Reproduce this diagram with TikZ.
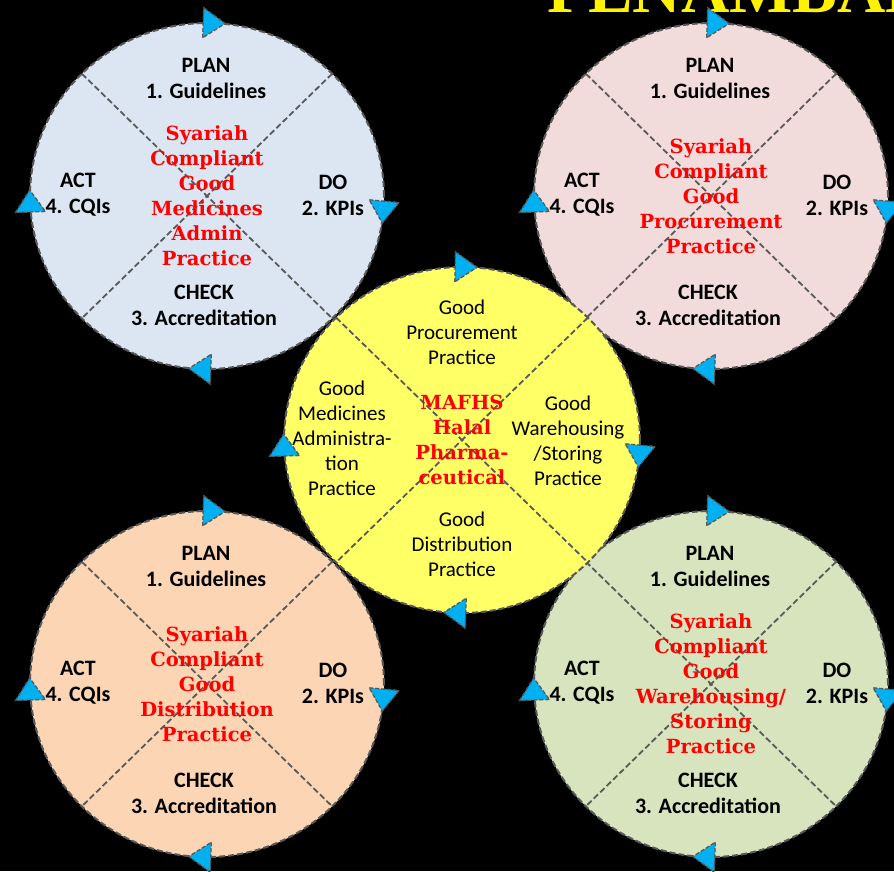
\documentclass[tikz,border=0pt]{standalone}
\usepackage{fontspec}
\setmainfont{Carlito}
\newfontfamily\redfont{DejaVu Serif}
\newfontfamily\titlefont{Liberation Serif}
\usetikzlibrary{positioning}

\definecolor{bluefill}{HTML}{DCE6F2}
\definecolor{pinkfill}{HTML}{F2DCDB}
\definecolor{peachfill}{HTML}{FCD5B5}
\definecolor{greenfill}{HTML}{D7E4BD}
\definecolor{yellowfill}{HTML}{FFFF66}
\definecolor{arrowblue}{HTML}{00B0F0}
\definecolor{rimgray}{HTML}{595959}

\tikzset{
  rim/.style={draw=rimgray, line width=2pt, dash pattern=on 6pt off 3pt},
  cross/.style={draw=rimgray, line width=1.8pt, dash pattern=on 6pt off 3pt},
  turn/.style={fill=arrowblue, draw=rimgray, line width=1.3pt, dash pattern=on 4pt off 2pt},
  stage/.style={font=\fontsize{22}{26}\selectfont\bfseries, align=center, inner sep=0pt},
  practice/.style={font=\fontsize{21}{25}\selectfont, align=center, inner sep=0pt},
  focus/.style={font=\redfont\fontsize{19.5}{25}\selectfont\bfseries, text=red, align=center, inner sep=0pt},
}

\begin{document}
\begin{tikzpicture}[x=1pt, y=1pt]
\fill[black] (0,0) rectangle (894,-871);
\useasboundingbox (0,0) rectangle (894,-871);

% title, cut at the top edge
\begin{scope}
\clip (0,0) rectangle (894,-871);
\node[anchor=base west, inner sep=0pt, text=yellow, font=\titlefont\fontsize{67}{67}\selectfont\bfseries] (title) at (547,-12) {PENAMBAH};
\end{scope}

% four PDCA cycles
\foreach \n/\cx/\cy/\col/\txt in {
  admin/207/196/bluefill/{Syariah\\Compliant\\Good\\Medicines\\Admin\\Practice},
  procure/711/196/pinkfill/{Syariah\\Compliant\\Good\\Procurement\\Practice},
  distrib/207/684/peachfill/{Syariah\\Compliant\\Good\\Distribution\\Practice},
  store/711/684/greenfill/{Syariah\\Compliant\\Good\\Warehousing/\\Storing\\Practice}}{
  \coordinate (\n) at (\cx,-\cy);
  \fill[\col] (\n) ellipse [x radius=177, y radius=173];
  \draw[cross, shift={(\n)}] (135:177 and 173) -- (-45:177 and 173);
  \draw[cross, shift={(\n)}] (45:177 and 173) -- (225:177 and 173);
  \draw[rim] (\n) ellipse [x radius=177, y radius=173];
  \foreach \a in {88,-5,268,182}
    \draw[turn, shift={(\n)}, shift={(\a:177 and 173)}, rotate=\a] (-15,10) -- (15,10) -- (0,-12) -- cycle;
  \node[stage, shift={(-1,118)}] (\n-plan) at (\n) {PLAN\\1. Guidelines};
  \node[stage, shift={(126,1)}] (\n-do) at (\n) {DO\\2. KPIs};
  \node[stage, shift={(-3,-109)}] (\n-check) at (\n) {CHECK\\3. Accreditation};
  \node[stage, shift={(-129,1)}] (\n-act) at (\n) {ACT\\4. CQIs};
  \node[focus] (\n-focus) at (\n) {\txt};
}

% hub
\coordinate (hub) at (462,-440);
\fill[yellowfill] (hub) ellipse [x radius=178, y radius=173];
\draw[cross, shift={(hub)}] (135:178 and 173) -- (-45:178 and 173);
\draw[cross, shift={(hub)}] (45:178 and 173) -- (225:178 and 173);
\draw[rim] (hub) ellipse [x radius=178, y radius=173];
\foreach \a in {89,-5,268,182}
  \draw[turn, shift={(hub)}, shift={(\a:178 and 173)}, rotate=\a] (-15,10) -- (15,10) -- (0,-12) -- cycle;
\node[practice, shift={(0,108)}] (hub-procure) at (hub) {Good\\Procurement\\Practice};
\node[practice, shift={(106,-1)}] (hub-store) at (hub) {Good\\Warehousing\\/Storing\\Practice};
\node[practice, shift={(0,-104)}] (hub-distrib) at (hub) {Good\\Distribution\\Practice};
\node[practice, shift={(-120,2)}] (hub-admin) at (hub) {Good\\Medicines\\Administra-\\tion\\Practice};
\node[focus] (hub-focus) at (hub) {MAFHS\\Halal\\Pharma-\\ceutical};
\end{tikzpicture}
\end{document}
